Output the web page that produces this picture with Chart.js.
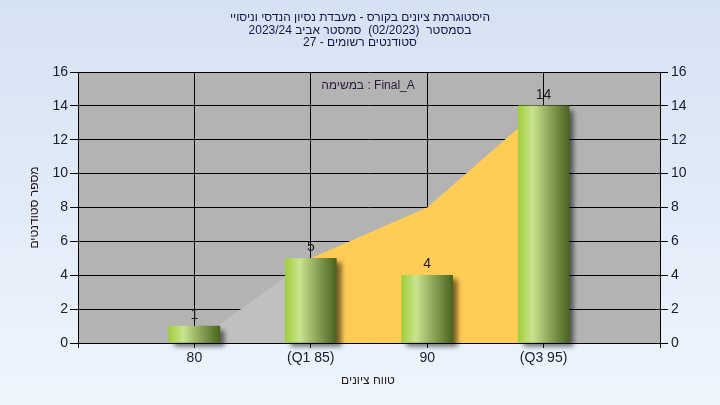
<!DOCTYPE html>
<html>
<head>
<meta charset="utf-8">
<script src="https://cdn.jsdelivr.net/npm/chart.js@4"></script>
<style>
  html,body{margin:0;padding:0;}
  #wrap{width:720px;height:405px;}
</style>
</head>
<body>
<div id="wrap"><canvas id="histChart" width="720" height="405"></canvas></div>
<script>
// grade buckets (empty slots at both ends so the axis runs past the first/last bar)
const categories = ['', '80', '(Q1 85)', '90', '(Q3 95)', ''];
const studentCounts = [null, 1, 5, 4, 14, null];
// background areas
const outerArea = [null, 0, 5, null, null, null];
const quartileArea = [null, null, 5, 8, 14, null];
const yMin = 0, yMax = 16, yStep = 2;

const titleLines = [
  'היסטוגרמת ציונים בקורס - מעבדת נסיון הנדסי וניסויי',
  'בסמסטר  (02/2023)  סמסטר אביב 2023/24',
  'סטודנטים רשומים - 27'
];
const legendText = 'במשימה : Final_A';
const xTitle = 'טווח ציונים';
const yTitle = 'מספר סטודנטים';

const FONT = "'Liberation Sans', Arial, sans-serif";

// the original puts the words in reverse order, so place them one by one
function drawWords(ctx, s, cx, y){
  const words = s.split(' ').reverse();
  const spaceW = ctx.measureText(' ').width;
  const widths = words.map(w => w ? ctx.measureText(w).width : 0);
  const total = widths.reduce((a, b) => a + b, 0) + spaceW * (words.length - 1);
  let x = cx - total / 2;
  ctx.textAlign = 'left';
  words.forEach((w, i) => {
    if (w) ctx.fillText(w, x, y);
    x += widths[i] + spaceW;
  });
  ctx.textAlign = 'center';
}

const decoPlugin = {
  id: 'deco',
  beforeDraw(chart){
    const {ctx, chartArea, width, height} = chart;
    ctx.save();
    const g = ctx.createLinearGradient(0, 0, 0, height);
    g.addColorStop(0, '#d5e2f3');
    g.addColorStop(1, '#eef5fd');
    ctx.fillStyle = g;
    ctx.fillRect(0, 0, width, height);
    ctx.fillStyle = '#b3b3b3';
    ctx.fillRect(chartArea.left, chartArea.top, chartArea.right - chartArea.left, chartArea.bottom - chartArea.top);
    ctx.restore();
  },
  beforeDatasetDraw(chart, args){
    if (args.index !== 0) return;
    const ctx = chart.ctx;
    ctx.save();
    ctx.shadowColor = 'rgba(0,0,0,0.55)';
    ctx.shadowBlur = 5;
    ctx.shadowOffsetX = 5;
    ctx.shadowOffsetY = 4;
  },
  afterDatasetDraw(chart, args){
    if (args.index !== 0) return;
    chart.ctx.restore();
  },
  afterDraw(chart){
    const {ctx, chartArea} = chart;
    ctx.save();
    // bar values
    ctx.font = '14px ' + FONT;
    ctx.fillStyle = '#1c1c1c';
    ctx.textAlign = 'center';
    ctx.textBaseline = 'alphabetic';
    const meta = chart.getDatasetMeta(0);
    meta.data.forEach((el, i) => {
      const v = studentCounts[i];
      if (v === null) return;
      ctx.fillText(String(v), el.x, el.y - 7);
    });
    // title
    ctx.font = '12px ' + FONT;
    ctx.fillStyle = '#16164a';
    ctx.textBaseline = 'middle';
    titleLines.forEach((t, i) => {
      drawWords(ctx, t, 360, 18 + i * 12.5);
    });
    // legend note inside plot
    ctx.fillStyle = '#2a1a3a';
    ctx.fillText(legendText, 368, chartArea.top + 14);
    // axis titles
    ctx.fillStyle = '#241818';
    drawWords(ctx, xTitle, 368, 381);
    ctx.translate(35, (chartArea.top + chartArea.bottom) / 2);
    ctx.rotate(-Math.PI / 2);
    ctx.fillText(yTitle, 0, 0);
    ctx.restore();
  }
};

function barFill(c){
  const chart = c.chart;
  if (!chart.chartArea || c.type !== 'data') return '#9ccc40';
  const x = chart.scales.x.getPixelForValue(c.dataIndex);
  const g = chart.ctx.createLinearGradient(x - 25.5, 0, x + 25.5, 0);
  g.addColorStop(0, '#9fcf3c');
  g.addColorStop(0.28, '#c9e48e');
  g.addColorStop(0.6, '#8fa85c');
  g.addColorStop(1, '#4a6420');
  return g;
}

const tickColor = '#1a1a33';

new Chart(document.getElementById('histChart'), {
  type: 'bar',
  data: {
    labels: categories,
    datasets: [
      {
        type: 'bar',
        data: studentCounts,
        backgroundColor: barFill,
        borderWidth: 0,
        barThickness: 51,
        clip: false
      },
      {
        type: 'line',
        data: quartileArea,
        fill: 'origin',
        backgroundColor: '#ffcc55',
        borderWidth: 0,
        pointRadius: 0,
        tension: 0
      },
      {
        type: 'line',
        data: outerArea,
        fill: 'origin',
        backgroundColor: '#c0c0c0',
        borderWidth: 0,
        pointRadius: 0,
        tension: 0
      }
    ]
  },
  options: {
    responsive: false,
    animation: false,
    layout: { padding: { top: 72, left: 0, right: 0, bottom: 0 } },
    plugins: {
      legend: { display: false },
      title: { display: false },
      tooltip: { enabled: false }
    },
    scales: {
      x: {
        offset: false,
        grid: { offset: false, color: '#000', lineWidth: 1, tickLength: 5, drawOnChartArea: true },
        border: { color: '#000', width: 1 },
        ticks: { color: tickColor, font: { family: FONT, size: 14 }, padding: 2, autoSkip: false, maxRotation: 0 },
        afterFit(s){ s.height = 62; }
      },
      y: {
        position: 'left',
        min: yMin, max: yMax,
        grid: { color: '#000', lineWidth: 1, tickLength: 8 },
        border: { color: '#000', width: 1 },
        ticks: { stepSize: yStep, color: tickColor, font: { family: FONT, size: 14 }, padding: 2 },
        afterFit(s){ s.width = 78; }
      },
      y2: {
        position: 'right',
        min: yMin, max: yMax,
        grid: { color: '#000', lineWidth: 1, tickLength: 8, drawOnChartArea: false },
        border: { color: '#000', width: 1 },
        ticks: { stepSize: yStep, color: tickColor, font: { family: FONT, size: 14 }, padding: 3 },
        afterFit(s){ s.width = 60; }
      }
    }
  },
  plugins: [decoPlugin]
});
</script>
</body>
</html>
